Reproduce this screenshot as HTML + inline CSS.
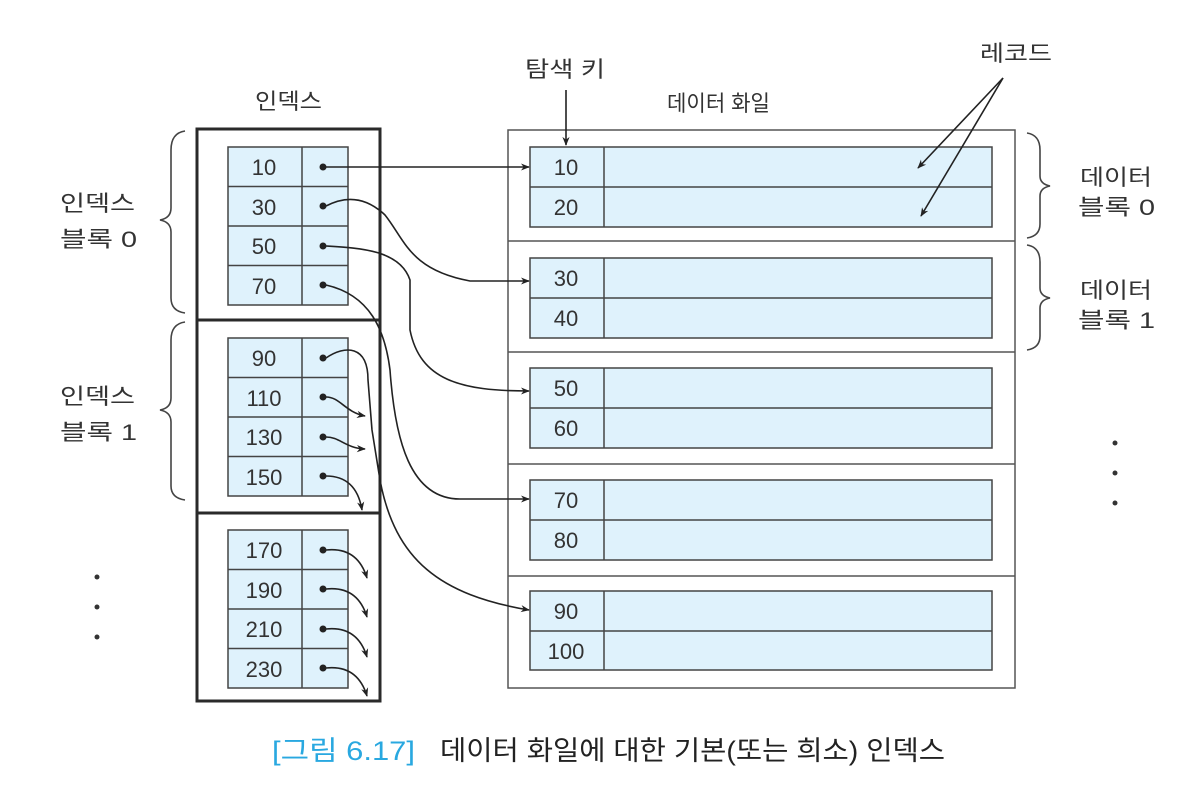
<!DOCTYPE html>
<html><head><meta charset="utf-8"><style>
html,body{margin:0;padding:0;background:#fff;}
svg{display:block;}
text{font-family:"Liberation Sans","Noto Sans CJK KR",sans-serif;fill:#333;}
</style></head><body>
<svg width="1192" height="802" viewBox="0 0 1192 802" xmlns="http://www.w3.org/2000/svg">
<defs>
<marker id="ah" viewBox="0 0 10 10" refX="9" refY="5" markerWidth="9" markerHeight="9" orient="auto" markerUnits="userSpaceOnUse"><path d="M0,1 L10,5 L0,9 L3,5 Z" fill="#222"/></marker>
</defs>
<g font-size="22">
<text x="255" y="109" textLength="67" lengthAdjust="spacingAndGlyphs">인덱스</text>
<text x="525" y="77" textLength="80" lengthAdjust="spacingAndGlyphs">탐색 키</text>
<text x="667" y="111" textLength="103" lengthAdjust="spacingAndGlyphs">데이터 화일</text>
<text x="980" y="61" textLength="72" lengthAdjust="spacingAndGlyphs">레코드</text>
<text x="60" y="211" textLength="75" lengthAdjust="spacingAndGlyphs">인덱스</text>
<text x="60" y="247" textLength="77" lengthAdjust="spacingAndGlyphs">블록 0</text>
<text x="60" y="404" textLength="75" lengthAdjust="spacingAndGlyphs">인덱스</text>
<text x="60" y="440" textLength="77" lengthAdjust="spacingAndGlyphs">블록 1</text>
<text x="1080" y="185" textLength="72" lengthAdjust="spacingAndGlyphs">데이터</text>
<text x="1078" y="215" textLength="77" lengthAdjust="spacingAndGlyphs">블록 0</text>
<text x="1080" y="298" textLength="72" lengthAdjust="spacingAndGlyphs">데이터</text>
<text x="1078" y="328" textLength="77" lengthAdjust="spacingAndGlyphs">블록 1</text>
</g>
<g fill="#333">
<circle cx="97" cy="577" r="2.5"/><circle cx="97" cy="607" r="2.5"/><circle cx="97" cy="637" r="2.5"/>
<circle cx="1115" cy="443" r="2.5"/><circle cx="1115" cy="473" r="2.5"/><circle cx="1115" cy="503" r="2.5"/>
</g>
<g fill="none" stroke="#444" stroke-width="1.6">
<path d="M185,131 Q171,133 171,150 L171,208 Q171,218 160,220 Q171,222 171,232 L171,298 Q171,311 185,313"/>
<path d="M185,322 Q171,324 171,340 L171,398 Q171,408 160,410 Q171,412 171,422 L171,486 Q171,498 185,500"/>
<path d="M1027,133 Q1040,135 1040,150 L1040,176 Q1040,184 1050,186 Q1040,188 1040,196 L1040,224 Q1040,236 1027,238"/>
<path d="M1027,245 Q1040,247 1040,262 L1040,288 Q1040,296 1050,298 Q1040,300 1040,308 L1040,336 Q1040,348 1027,350"/>
</g>
<rect x="197" y="129" width="183" height="572" fill="none" stroke="#2a2a2a" stroke-width="3"/>
<line x1="197" y1="320" x2="380" y2="320" stroke="#2a2a2a" stroke-width="3"/>
<line x1="197" y1="513" x2="380" y2="513" stroke="#2a2a2a" stroke-width="3"/>
<g stroke="#444" stroke-width="1.5" fill="#dff2fc">
<rect x="228" y="147" width="120" height="158"/>
<rect x="228" y="338" width="120" height="158"/>
<rect x="228" y="530" width="120" height="158"/>
</g>
<g stroke="#444" stroke-width="1.5">
<line x1="302" y1="147" x2="302" y2="305"/><line x1="228" y1="186.5" x2="348" y2="186.5"/><line x1="228" y1="226" x2="348" y2="226"/><line x1="228" y1="265.5" x2="348" y2="265.5"/>
<line x1="302" y1="338" x2="302" y2="496"/><line x1="228" y1="377.5" x2="348" y2="377.5"/><line x1="228" y1="417" x2="348" y2="417"/><line x1="228" y1="456.5" x2="348" y2="456.5"/>
<line x1="302" y1="530" x2="302" y2="688"/><line x1="228" y1="569.5" x2="348" y2="569.5"/><line x1="228" y1="609" x2="348" y2="609"/><line x1="228" y1="648.5" x2="348" y2="648.5"/>
</g>
<g font-size="22" text-anchor="middle">
<text x="264" y="175">10</text><text x="264" y="215">30</text><text x="264" y="254">50</text><text x="264" y="294">70</text>
<text x="264" y="366">90</text><text x="264" y="406">110</text><text x="264" y="445">130</text><text x="264" y="485">150</text>
<text x="264" y="558">170</text><text x="264" y="598">190</text><text x="264" y="637">210</text><text x="264" y="677">230</text>
</g>
<g fill="#222">
<circle cx="323" cy="167" r="3.5"/><circle cx="323" cy="206" r="3.5"/><circle cx="323" cy="246" r="3.5"/><circle cx="323" cy="285" r="3.5"/>
<circle cx="323" cy="358" r="3.5"/><circle cx="323" cy="397" r="3.5"/><circle cx="323" cy="437" r="3.5"/><circle cx="323" cy="476" r="3.5"/>
<circle cx="323" cy="550" r="3.5"/><circle cx="323" cy="589" r="3.5"/><circle cx="323" cy="629" r="3.5"/><circle cx="323" cy="668" r="3.5"/>
</g>
<rect x="508" y="130" width="507" height="558" fill="none" stroke="#555" stroke-width="1.5"/>
<g stroke="#555" stroke-width="1.5">
<line x1="508" y1="241" x2="1015" y2="241"/><line x1="508" y1="352" x2="1015" y2="352"/><line x1="508" y1="464" x2="1015" y2="464"/><line x1="508" y1="576" x2="1015" y2="576"/>
</g>
<g stroke="#444" stroke-width="1.5" fill="#dff2fc">
<rect x="530" y="147" width="462" height="80"/>
<rect x="530" y="258" width="462" height="80"/>
<rect x="530" y="368" width="462" height="80"/>
<rect x="530" y="480" width="462" height="80"/>
<rect x="530" y="591" width="462" height="79"/>
</g>
<g stroke="#444" stroke-width="1.5">
<line x1="604" y1="147" x2="604" y2="227"/><line x1="530" y1="187" x2="992" y2="187"/>
<line x1="604" y1="258" x2="604" y2="338"/><line x1="530" y1="298" x2="992" y2="298"/>
<line x1="604" y1="368" x2="604" y2="448"/><line x1="530" y1="408" x2="992" y2="408"/>
<line x1="604" y1="480" x2="604" y2="560"/><line x1="530" y1="520" x2="992" y2="520"/>
<line x1="604" y1="591" x2="604" y2="670"/><line x1="530" y1="631" x2="992" y2="631"/>
</g>
<g font-size="22" text-anchor="middle">
<text x="566" y="175">10</text><text x="566" y="215">20</text>
<text x="566" y="286">30</text><text x="566" y="326">40</text>
<text x="566" y="396">50</text><text x="566" y="436">60</text>
<text x="566" y="508">70</text><text x="566" y="548">80</text>
<text x="566" y="619">90</text><text x="566" y="659">100</text>
</g>
<g fill="none" stroke="#222" stroke-width="1.6" marker-end="url(#ah)">
<line x1="566" y1="90" x2="566" y2="145"/>
<line x1="1003" y1="78" x2="918" y2="168"/>
<line x1="1003" y1="78" x2="921" y2="216"/>
<line x1="326" y1="167" x2="529" y2="167"/>
<path d="M326,206 C345,196 365,196 385,215 C405,240 410,270 470,281 L529,281"/>
<path d="M326,246 C360,248 400,250 410,280 L410,330 C420,380 460,391 529,391"/>
<path d="M326,285 C370,295 385,330 390,370 C395,440 410,499 460,499 L529,499"/>
<path d="M326,358 C345,345 368,345 368,380 L372,430 L380,480 C395,560 440,595 529,610"/>
<path d="M326,397 C340,397 345,412 365,416"/>
<path d="M326,437 C340,437 345,448 365,449"/>
<path d="M326,476 C345,476 358,486 362,510"/>
<path d="M326,550 C345,548 360,555 367,578"/>
<path d="M326,589 C345,587 360,594 367,617"/>
<path d="M326,629 C345,627 360,634 367,657"/>
<path d="M326,668 C345,666 360,673 367,696"/>
</g>
<text x="272" y="760" font-size="27" textLength="143" lengthAdjust="spacingAndGlyphs" style="fill:#29a8e0">[그림 6.17]</text>
<text x="440" y="760" font-size="27" textLength="505" lengthAdjust="spacingAndGlyphs" style="fill:#222">데이터 화일에 대한 기본(또는 희소) 인덱스</text>
</svg>
</body></html>
